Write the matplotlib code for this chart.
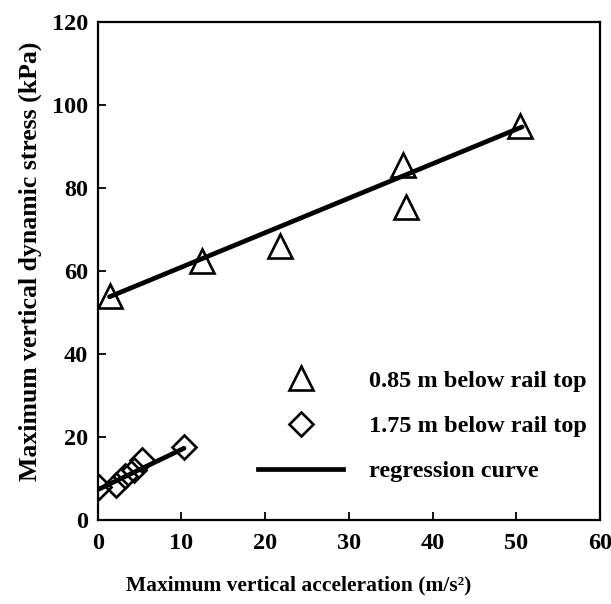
import numpy as np
import matplotlib
matplotlib.use("Agg")
import matplotlib.pyplot as plt

plt.rcParams['font.family'] = ['Liberation Serif', 'DejaVu Serif']
plt.rcParams['font.weight'] = 'bold'

# data
x_085 = [1.5, 12.5, 21.8, 36.5, 36.8, 50.5]
y_085 = [54.0, 62.5, 66.0, 85.5, 75.5, 95.0]
x_175 = [0.2, 2.2, 3.3, 4.3, 5.3, 10.3]
y_175 = [8.0, 8.5, 10.5, 12.0, 14.5, 17.5]
# regression lines: slope, intercept, x-range
fit_085 = (0.83, 52.6, 1.4, 50.7)
fit_175 = (0.97, 7.3, 0.2, 10.3)

xticks = [0, 10, 20, 30, 40, 50, 60]
yticks = [0, 20, 40, 60, 80, 100, 120]
labels = ['0.85 m below rail top', '1.75 m below rail top', 'regression curve']

fig = plt.figure(figsize=(6.11, 6.04), dpi=100)
ax = fig.add_axes([0.160, 0.139, 0.822, 0.825])

for (s, b, x0, x1) in (fit_085, fit_175):
    xs = np.array([x0, x1])
    ax.plot(xs, s * xs + b, color='black', lw=3.4, solid_capstyle='round', zorder=2)

ax.plot(x_085, y_085, linestyle='none', marker='^', ms=17, mfc='none', mec='black', mew=1.9, zorder=3)
ax.plot(x_175, y_175, linestyle='none', marker='D', ms=12, mfc='none', mec='black', mew=1.9, zorder=3)

ax.set_xlim(0, 60)
ax.set_ylim(0, 120)
ax.set_xticks(xticks)
ax.set_yticks(yticks)
ax.tick_params(direction='in', length=6, width=1.3, labelsize=17.5, pad=7)
ax.tick_params(axis='x', pad=9)
for sp in ax.spines.values():
    sp.set_linewidth(1.6)

ax.set_xlabel('Maximum vertical acceleration (m/s²)', fontsize=15.5, fontweight='bold')
ax.xaxis.set_label_coords(0.40, -0.112)
ax.set_ylabel('Maximum vertical dynamic stress (kPa)', fontsize=18.5, fontweight='bold')
ax.yaxis.set_label_coords(-0.112, 0.52)

from matplotlib.lines import Line2D
handles = [
    Line2D([], [], linestyle='none', marker='^', ms=17, mfc='none', mec='black', mew=1.9),
    Line2D([], [], linestyle='none', marker='D', ms=12, mfc='none', mec='black', mew=1.9),
    Line2D([], [], color='black', lw=3.4),
]
fig.legend(handles, labels, loc='center left', bbox_to_anchor=(246 / 611, (604 - 426) / 604),
           frameon=False, handlelength=3.5, handletextpad=1.05,
           labelspacing=0.95, borderpad=0, prop={'weight': 'bold', 'size': 17.5})

fig.savefig('out.png', dpi=100)
